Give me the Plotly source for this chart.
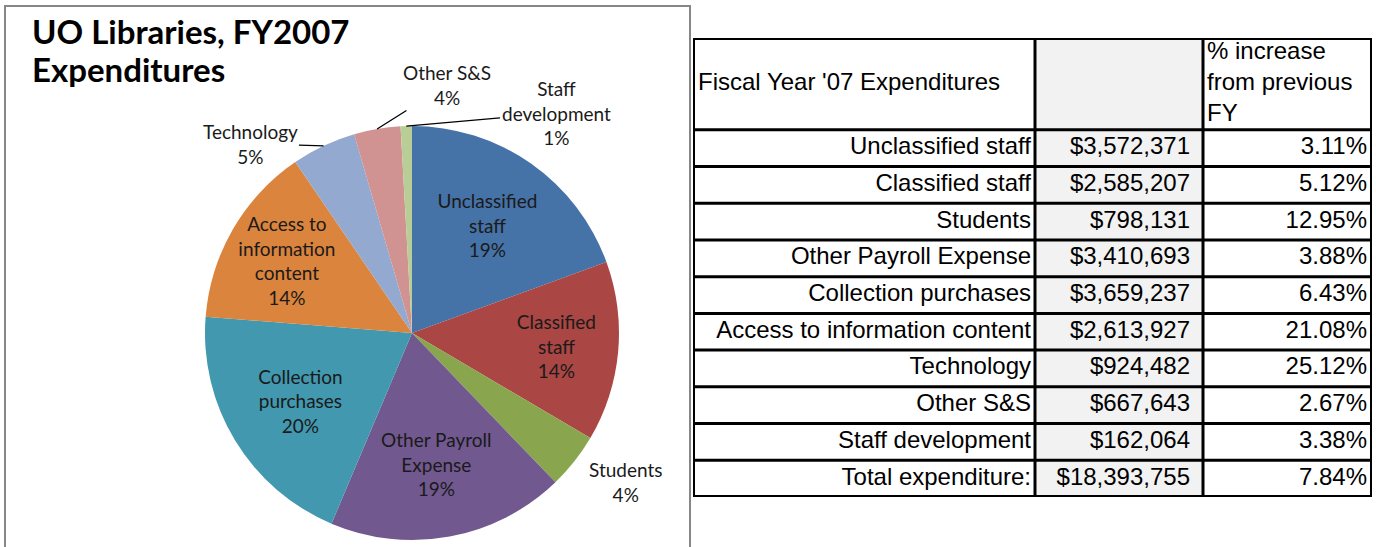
import math
import plotly.graph_objects as go

# ---------------- data ----------------
categories = ["Unclassified staff", "Classified staff", "Students", "Other Payroll Expense",
              "Collection purchases", "Access to information content", "Technology",
              "Other S&S", "Staff development"]
pie_labels = ["Unclassified<br>staff", "Classified<br>staff", "Students", "Other Payroll<br>Expense",
              "Collection<br>purchases", "Access to<br>information<br>content", "Technology",
              "Other S&S", "Staff<br>development"]
amounts = [3572371, 2585207, 798131, 3410693, 3659237, 2613927, 924482, 667643, 162064]
pct_increase = ["3.11%", "5.12%", "12.95%", "3.88%", "6.43%", "21.08%", "25.12%", "2.67%", "3.38%"]
total_label = "Total expenditure:"
total_amount = "$18,393,755"
total_increase = "7.84%"
header_labels = ["Fiscal Year '07 Expenditures", "", "% increase<br>from previous<br>FY"]

# ---------------- style ----------------
colors = ["#4572A7", "#AA4643", "#89A54E", "#71588F", "#4198AF", "#DB843D", "#93A9CF", "#D19392", "#B9CD96"]
inside = [True, True, False, True, True, True, False, False, False]
# outside label centres (px) for the small slices, and whether a leader line is drawn
outside_label_pos = {2: (625, 482, False), 6: (250, 144, True), 7: (447, 85, True), 8: (556, 113, True)}

W, H = 1376, 547
CX, CY, R = 412, 333, 207          # pie centre / radius in px
pie_font = dict(family="Lato", size=19, color="#1a1a1a")
tab_font = dict(family="Liberation Sans", size=24, color="black")

total = sum(amounts)
pie_text = [f"{l}<br>{round(v / total * 100)}%" for l, v in zip(pie_labels, amounts)]

fig = go.Figure()

fig.add_trace(go.Pie(
    labels=categories, values=amounts,
    text=[t if ins else "" for t, ins in zip(pie_text, inside)], textinfo="text",
    textposition=["inside" if ins else "none" for ins in inside],
    sort=False, direction="clockwise", rotation=0,
    marker=dict(colors=colors, line=dict(width=0)),
    insidetextorientation="horizontal", textfont=pie_font,
    domain=dict(x=[(CX - R) / W, (CX + R) / W], y=[(H - CY - R) / H, (H - CY + R) / H]),
    showlegend=False, hoverinfo="label+value+percent",
))

# labels for the small slices, with leader lines to the slice edge
cum = 0
for i, v in enumerate(amounts):
    mid = (cum + v / 2) / total * 2 * math.pi
    cum += v
    if i not in outside_label_pos:
        continue
    lx, ly, line = outside_label_pos[i]
    tx = CX + R * math.sin(mid)
    ty = CY - R * math.cos(mid)
    fig.add_annotation(
        x=tx / W, y=1 - ty / H, xref="paper", yref="paper",
        ax=lx - tx, ay=ly - ty, text=pie_text[i], showarrow=True, arrowhead=0,
        arrowwidth=1.3, arrowcolor="black" if line else "rgba(0,0,0,0)",
        font=pie_font, align="center", standoff=0, startstandoff=0,
    )

# ---------------- table ----------------
col_widths = [342, 168, 169]
col_edges = [0]
for w in col_widths:
    col_edges.append(col_edges[-1] + w)
header_rows = 2.5
col1 = categories + [total_label]
col2 = [f"${v:,}" for v in amounts] + [total_amount]
col3 = pct_increase + [total_increase]
n = len(col1)
rows_y = [i + 0.5 for i in range(n)]

fig.update_layout(
    xaxis=dict(domain=[693 / W, 1372 / W], range=[col_edges[0], col_edges[-1]], visible=False, fixedrange=True),
    yaxis=dict(domain=[1 - 497 / H, 1 - 38 / H], range=[n, -header_rows], visible=False, fixedrange=True),
)

# grey fill of the amount column
fig.add_shape(type="rect", xref="x", yref="y", x0=col_edges[1], x1=col_edges[2], y0=-header_rows, y1=n,
              fillcolor="#F2F2F2", line=dict(width=0), layer="below")

pads = [4, 13, 5]
for k, vals in enumerate([col1, col2, col3]):
    fig.add_trace(go.Scatter(
        x=[col_edges[k + 1] - pads[k]] * n, y=rows_y, text=vals, mode="text",
        textposition="middle left", textfont=tab_font, cliponaxis=False,
        showlegend=False, hoverinfo="skip",
    ))
fig.add_trace(go.Scatter(
    x=[col_edges[0] + 5, col_edges[2] + 4], y=[-header_rows / 2] * 2,
    text=[header_labels[0], header_labels[2]], mode="text", textposition="middle right",
    textfont=tab_font, cliponaxis=False, showlegend=False, hoverinfo="skip",
))

# grid lines
for j in range(0, n):
    fig.add_shape(type="line", xref="x", yref="y", x0=col_edges[0], x1=col_edges[-1], y0=j, y1=j,
                  line=dict(color="black", width=3))
for e in col_edges[1:-1]:
    fig.add_shape(type="line", xref="x", yref="y", x0=e, x1=e, y0=-header_rows, y1=n,
                  line=dict(color="black", width=3))
fig.add_shape(type="rect", xref="x", yref="y", x0=col_edges[0], x1=col_edges[-1], y0=-header_rows, y1=n,
              line=dict(color="black", width=4), fillcolor="rgba(0,0,0,0)")

# chart box
fig.add_shape(type="rect", xref="paper", yref="paper",
              x0=5 / W, x1=690 / W, y0=-0.05, y1=1 - 6 / H,
              line=dict(color="#878787", width=2), fillcolor="rgba(0,0,0,0)")

# title
title_font = dict(family="Lato", size=33, color="black")
fig.add_annotation(text="<b>UO Libraries, FY2007</b>", xref="paper", yref="paper",
                   x=30 / W, y=1 - 9 / H, xanchor="left", yanchor="top", align="left",
                   showarrow=False, font=title_font)
fig.add_annotation(text="<b>Expenditures</b>", xref="paper", yref="paper",
                   x=30 / W, y=1 - 47 / H, xanchor="left", yanchor="top", align="left",
                   showarrow=False, font=title_font)

fig.update_layout(width=W, height=H, margin=dict(l=0, r=0, t=0, b=0),
                  paper_bgcolor="white", plot_bgcolor="white",
                  uniformtext=dict(minsize=19, mode="show"))

fig.write_html("out.html", config={"displayModeBar": False},
               post_script="document.body.style.margin='0';document.body.style.overflow='hidden';")
